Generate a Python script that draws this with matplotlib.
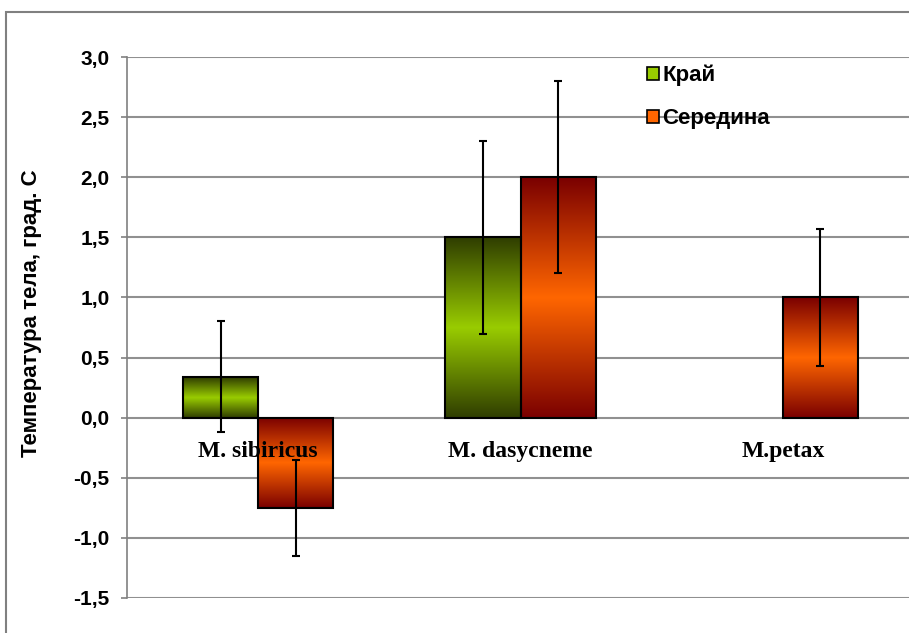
import numpy as np
import matplotlib.pyplot as plt
from matplotlib.colors import LinearSegmentedColormap
from matplotlib.patches import Patch, Rectangle

species = ['M. sibiricus', 'M. dasycneme', 'M.petax']
edge = [0.34, 1.5, 0.0]          # Край
edge_err = [0.46, 0.8, 0.0]
middle = [-0.75, 2.0, 1.0]       # Середина
middle_err = [0.4, 0.8, 0.57]

green_cm = LinearSegmentedColormap.from_list('g', ['#2f3d00', '#99cc00', '#2f3d00'])
orange_cm = LinearSegmentedColormap.from_list('o', ['#7a0000', '#ff6600', '#7a0000'])

fig = plt.figure(figsize=(9.09, 6.33), dpi=100)
ax = fig.add_axes([127 / 909, 35 / 633, 787 / 909, 541 / 633])

x = np.arange(len(species))
w = 0.286
grad = np.linspace(0, 1, 256).reshape(-1, 1)


def gradient_bars(xs, vals, cmap):
    bars = ax.bar(xs, vals, w, facecolor='none', edgecolor='black', linewidth=1.5, zorder=3)
    for b, v in zip(bars, vals):
        if v == 0:
            b.set_visible(False)
            continue
        x0, y0 = b.get_x(), b.get_y()
        im = ax.imshow(grad, extent=[x0, x0 + b.get_width(), y0, y0 + b.get_height()],
                       aspect='auto', cmap=cmap, zorder=2, origin='lower')
        im.set_clip_path(b)
    return bars


gradient_bars(x - w / 2, edge, green_cm)
gradient_bars(x + w / 2, middle, orange_cm)
ax.set_xlim(-0.5, 2.5)
ax.set_ylim(-1.5, 3.0)

for xs, vals, errs in [(x - w / 2, edge, edge_err), (x + w / 2, middle, middle_err)]:
    for xi, v, e in zip(xs, vals, errs):
        if e > 0:
            ax.errorbar(xi, v, yerr=e, fmt='none', ecolor='black', elinewidth=1.5,
                        capsize=3, capthick=1.5, zorder=4)

for xi, name in zip(x, species):
    ax.annotate(name, (xi, 0), xytext=(0, -17), textcoords='offset points',
                ha='center', va='top', family='Liberation Serif', fontweight='bold', fontsize=17)

ticks = np.arange(-1.5, 3.01, 0.5)
ax.set_yticks(ticks)
ax.set_yticklabels([f'{v:.1f}'.replace('.', ',') for v in ticks],
                   family='Liberation Sans', fontweight='bold', fontsize=15)
ax.set_xticks([])
ax.tick_params(axis='y', color='#808080', length=4.5, width=1.2, pad=8)
ax.yaxis.grid(True, color='#909090', linewidth=1.5)
ax.set_axisbelow(True)
for s in ['top', 'right', 'bottom']:
    ax.spines[s].set_visible(False)
ax.spines['left'].set_color('#808080')
ax.spines['left'].set_linewidth(1.2)
ax.set_ylabel('Температура тела, град. С', family='Liberation Sans', fontweight='bold',
              fontsize=16)
ax.yaxis.set_label_coords((42 - 127) / 787, 0.527)

handles = [Patch(facecolor='#99cc00', edgecolor='black', linewidth=1.2, label='Край'),
           Patch(facecolor='#ff6600', edgecolor='black', linewidth=1.2, label='Середина')]
ax.legend(handles=handles, loc='upper left', bbox_to_anchor=(631 / 909, 1 - 49 / 633),
          bbox_transform=fig.transFigure, frameon=False, handlelength=0.55, handleheight=0.55,
          handletextpad=0.15, labelspacing=1.0, borderpad=0.2,
          prop={'family': 'Liberation Sans', 'weight': 'bold', 'size': 16})

fig.patches.append(Rectangle((6 / 909, -0.1), 1.2, 1.1 - 12 / 633, transform=fig.transFigure,
                             fill=False, edgecolor='#808080', linewidth=1.5))

fig.savefig('out.png', dpi=100)
